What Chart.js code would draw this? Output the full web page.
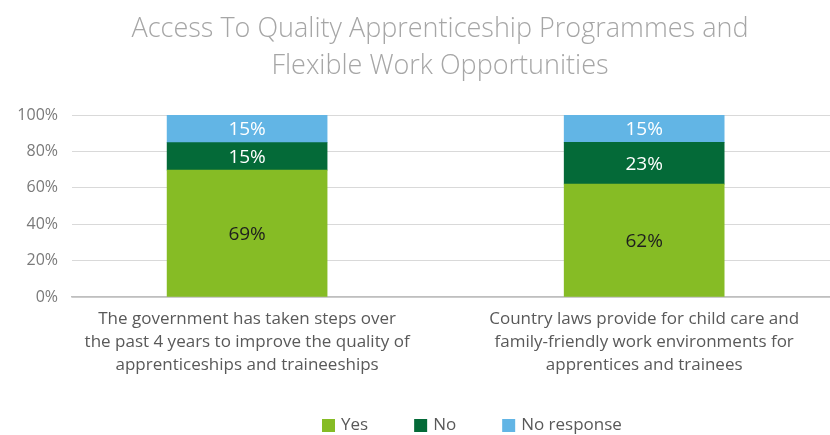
<!DOCTYPE html>
<html>
<head>
<meta charset="utf-8">
<title>Access To Quality Apprenticeship Programmes</title>
<script src="https://cdn.jsdelivr.net/npm/chart.js@4.4.1/dist/chart.umd.min.js"></script>
<style>
  html, body { margin: 0; padding: 0; background: #fff; overflow: hidden; }
</style>
</head>
<body>
<canvas id="accessChart" width="830" height="435"></canvas>
<script>
var categories = [
    ['The government has taken steps over', 'the past 4 years to improve the quality of', 'apprenticeships and traineeships'],
    ['Country laws provide for child care and', 'family-friendly work environments for', 'apprentices and trainees']
];
var yesValues = [69, 62];
var noValues = [15, 23];
var noResponseValues = [15, 15];
var yTicks = [0, 20, 40, 60, 80, 100];
var titleLines = ['Access To Quality Apprenticeship Programmes and', 'Flexible Work Opportunities'];

var green = '#86bc25';
var darkGreen = '#046a38';
var blue = '#62b5e5';

Chart.defaults.font.family = '"Open Sans", sans-serif';

// 100% stacked: every column is scaled by its own total
var totals = yesValues.map(function (v, i) { return v + noValues[i] + noResponseValues[i]; });
function shares(values) {
    return values.map(function (v, i) { return { x: i, y: v / totals[i] * 100 }; });
}

// value labels in the middle of each segment
var barLabels = {
    id: 'barLabels',
    afterDatasetsDraw: function (chart) {
        var ctx = chart.ctx;
        chart.data.datasets.forEach(function (ds, di) {
            chart.getDatasetMeta(di).data.forEach(function (bar, i) {
                var c = bar.getCenterPoint();
                ctx.save();
                ctx.font = '19px "Open Sans"';
                ctx.fillStyle = ds.labelColor;
                ctx.textAlign = 'center';
                ctx.textBaseline = 'middle';
                ctx.fillText(ds.values[i] + '%', c.x, c.y + 1);
                ctx.restore();
            });
        });
    }
};

// two-line heading and the key underneath
var headerAndKey = {
    id: 'headerAndKey',
    afterDraw: function (chart) {
        var ctx = chart.ctx;
        ctx.save();
        ctx.font = '300 27px "Open Sans"';
        ctx.fillStyle = '#a6a6a6';
        ctx.textAlign = 'center';
        ctx.textBaseline = 'middle';
        titleLines.forEach(function (t, i) { ctx.fillText(t, 440, 29.5 + i * 37); });

        ctx.font = '17px "Open Sans"';
        ctx.textAlign = 'left';
        var x = 322;
        chart.data.datasets.forEach(function (ds) {
            ctx.fillStyle = ds.backgroundColor;
            ctx.fillRect(x, 419, 13, 13);
            x += 19;
            ctx.fillStyle = '#595959';
            ctx.fillText(ds.label, x, 425);
            x += ctx.measureText(ds.label).width + 46;
        });
        ctx.restore();
    }
};

var ctx = document.getElementById('accessChart').getContext('2d');
var accessChart = new Chart(ctx, {
    type: 'bar',
    data: {
        datasets: [
            { label: 'Yes', data: shares(yesValues), values: yesValues, backgroundColor: green, labelColor: '#1e1e1e' },
            { label: 'No', data: shares(noValues), values: noValues, backgroundColor: darkGreen, labelColor: '#ffffff' },
            { label: 'No response', data: shares(noResponseValues), values: noResponseValues, backgroundColor: blue, labelColor: '#ffffff' }
        ]
    },
    options: {
        responsive: false,
        animation: false,
        barThickness: 160,
        layout: { padding: { top: 115, right: 0, bottom: 0, left: 0 } },
        plugins: {
            legend: { display: false },
            title: { display: false },
            tooltip: { enabled: false }
        },
        scales: {
            x: {
                type: 'linear',
                stacked: true,
                offset: false,
                bounds: 'data',
                min: -0.441,
                max: 1.468,
                afterBuildTicks: function (scale) {
                    scale.ticks = categories.map(function (c, i) { return { value: i }; });
                },
                afterFit: function (scale) { scale.height = 138; },
                grid: { display: false, drawTicks: false },
                border: { display: true, color: '#bfbfbf', width: 1.5 },
                ticks: {
                    autoSkip: false,
                    maxRotation: 0,
                    padding: 10,
                    color: '#595959',
                    font: { size: 17, lineHeight: 1.38 },
                    callback: function (value) { return categories[value]; }
                }
            },
            y: {
                stacked: true,
                min: 0,
                max: 100,
                afterBuildTicks: function (scale) {
                    scale.ticks = yTicks.map(function (v) { return { value: v }; });
                },
                afterFit: function (scale) { scale.width = 72; },
                grid: { color: '#d9d9d9', lineWidth: 1, drawTicks: false },
                border: { display: false },
                ticks: {
                    padding: 14,
                    color: '#7a7a7a',
                    font: { size: 16 },
                    callback: function (value) { return value + '%'; }
                }
            }
        }
    },
    plugins: [barLabels, headerAndKey]
});
</script>
</body>
</html>
